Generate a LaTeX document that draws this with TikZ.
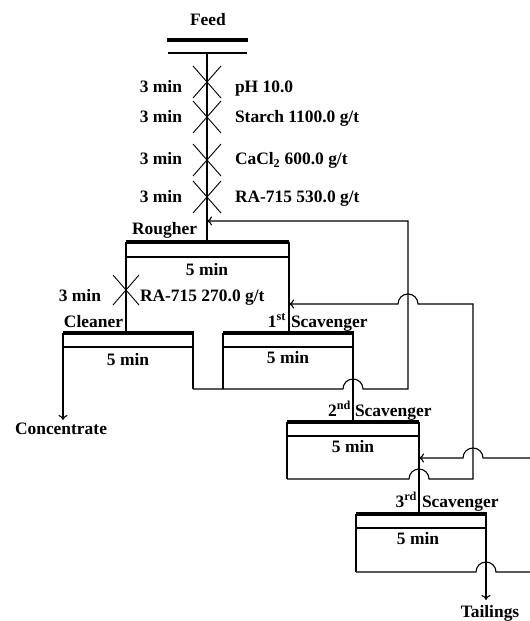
\documentclass[tikz,border=0pt]{standalone}
\usepackage{fontspec}
\setmainfont{Liberation Serif}
\usetikzlibrary{arrows.meta,shapes.misc}
\begin{document}
\begin{tikzpicture}[x=1bp,y=-1bp,
  every node/.style={font=\fontsize{17.5}{20}\selectfont\bfseries, inner sep=0pt, outer sep=0pt},
  ln/.style={line width=1.1bp},
  bar/.style={line width=3.6bp},
  flow/.style={line width=1.1bp, -{To[length=5bp,width=9bp]}},
  xmark/.style={draw, cross out, line width=0.9bp, minimum width=28bp, minimum height=32bp},
  lb/.style={anchor=base},
  lbe/.style={anchor=base east},
  lbw/.style={anchor=base west}
]
\useasboundingbox (0,0) rectangle (530,621);
% ---- coordinates
\coordinate (f1) at (167,40); \coordinate (f2) at (248,40);
\coordinate (f3) at (168,53); \coordinate (f4) at (247,53);
\coordinate (fm) at (207,53);
\coordinate (r1) at (126,242); \coordinate (r2) at (289,242);
\coordinate (r3) at (126,257); \coordinate (r4) at (289,257);
\coordinate (rin) at (207,242);
\coordinate (c1) at (63,333); \coordinate (c2) at (194,333);
\coordinate (c3) at (63,347); \coordinate (c4) at (193,347);
\coordinate (cr) at (193,333); \coordinate (cb) at (193,389);
\coordinate (cin) at (126,333); \coordinate (cout) at (63,420);
\coordinate (s1a) at (223,333); \coordinate (s1b) at (354,333);
\coordinate (s1c) at (223,347); \coordinate (s1d) at (353,347);
\coordinate (s1in) at (289,333); \coordinate (s1bl) at (223,389);
\coordinate (s1rt) at (353,333); \coordinate (h1) at (353,389);
\coordinate (k1) at (408,389); \coordinate (k2) at (408,221); \coordinate (k3) at (207,221);
\coordinate (s2a) at (287,422); \coordinate (s2b) at (419,422);
\coordinate (s2c) at (287,436); \coordinate (s2d) at (419,436);
\coordinate (s2in) at (353,422); \coordinate (s2bl) at (287,479);
\coordinate (h2) at (419,479); \coordinate (m1) at (473,479); \coordinate (m2) at (473,304);
\coordinate (h3) at (408,304); \coordinate (s1r) at (289,304);
\coordinate (e1) at (530,458); \coordinate (h4) at (473,458); \coordinate (s2r) at (419,458);
\coordinate (s3a) at (356,514); \coordinate (s3b) at (487,514);
\coordinate (s3c) at (356,528); \coordinate (s3d) at (487,528);
\coordinate (s3in) at (419,514); \coordinate (s3bl) at (356,572);
\coordinate (h5) at (486,572); \coordinate (e2) at (530,572);
\coordinate (s3rt) at (486,514); \coordinate (tail) at (486,600);
% ---- feed
\draw[bar] (f1) -- (f2);
\draw[ln] (f3) -- (f4);
\draw[ln] (fm) -- (rin);
\node[xmark] (x1) at (207,82) {};
\node[xmark] (x2) at (207,117) {};
\node[xmark] (x3) at (207,160) {};
\node[xmark] (x4) at (207,197) {};
\node[xmark, minimum width=26bp, minimum height=30bp] (x5) at (126,290) {};
% ---- rougher
\draw[bar] (r1) -- (r2);
\draw[ln] (r3) -- (r4);
\draw[ln] (r1) -- (cin);
\draw[ln] (r2) -- (s1in);
% ---- cleaner
\draw[bar] (c1) -- (c2);
\draw[ln] (c3) -- (c4);
\draw[flow] (c1) -- (cout);
\draw[ln] (cr) -- (cb);
\draw[flow] (cb) -- ([xshift=-10bp]h1) arc[start angle=180,end angle=0,radius=10bp] -- (k1) -- (k2) -- (k3);
% ---- 1st scavenger
\draw[bar] (s1a) -- (s1b);
\draw[ln] (s1c) -- (s1d);
\draw[ln] (s1a) -- (s1bl);
\draw[ln] (s1rt) -- (s2in);
% ---- 2nd scavenger
\draw[bar] (s2a) -- (s2b);
\draw[ln] (s2c) -- (s2d);
\draw[ln] (s2a) -- (s2bl);
\draw[ln] (s2b) -- (s3in);
\draw[flow] (s2bl) -- ([xshift=-10bp]h2) arc[start angle=180,end angle=0,radius=10bp] -- (m1) -- (m2) -- ([xshift=10bp]h3) arc[start angle=0,end angle=180,radius=10bp] -- (s1r);
\draw[flow] (e1) -- ([xshift=10bp]h4) arc[start angle=0,end angle=180,radius=10bp] -- (s2r);
% ---- 3rd scavenger
\draw[bar] (s3a) -- (s3b);
\draw[ln] (s3c) -- (s3d);
\draw[ln] (s3a) -- (s3bl);
\draw[ln] (s3bl) -- ([xshift=-10bp]h5) arc[start angle=180,end angle=0,radius=10bp] -- (e2);
\draw[flow] (s3rt) -- (tail);
% ---- texts
\node[lb] (tfeed) at (208,26) {Feed};
\node[lbe] (t1) at (182,93) {3 min};
\node[lbe] (t2) at (182,123) {3 min};
\node[lbe] (t3) at (182,165) {3 min};
\node[lbe] (t4) at (182,202) {3 min};
\node[lbw] (u1) at (235,93) {pH 10.0};
\node[lbw] (u2) at (235,123) {Starch 1100.0 g/t};
\node[lbw] (u3) at (235,165) {CaCl\textsubscript{2} 600.0 g/t};
\node[lbw] (u4) at (235,202) {RA-715 530.0 g/t};
\node[lbe] (trough) at (197,234) {Rougher};
\node[lb] (rt) at (207,275) {5 min};
\node[lbe] (t5) at (101,301) {3 min};
\node[lbw] (u5) at (140,301) {RA-715 270.0 g/t};
\node[lbe] (tclean) at (123,327) {Cleaner};
\node[lb] (ct) at (128,365) {5 min};
\node[lbe] (n1) at (286,327) {1\textsuperscript{st}};
\node[lbw] (sc1) at (291,327) {Scavenger};
\node[lb] (s1t) at (288,363) {5 min};
\node[lb] (tconc) at (61,434) {Concentrate};
\node[lbe] (n2) at (351,416) {2\textsuperscript{nd}};
\node[lbw] (sc2) at (355,416) {Scavenger};
\node[lb] (s2t) at (353,452) {5 min};
\node[lbe] (n3) at (417,507) {3\textsuperscript{rd}};
\node[lbw] (sc3) at (422,507) {Scavenger};
\node[lb] (s3t) at (418,544) {5 min};
\node[lb] (ttail) at (490,617) {Tailings};
\end{tikzpicture}
\end{document}
